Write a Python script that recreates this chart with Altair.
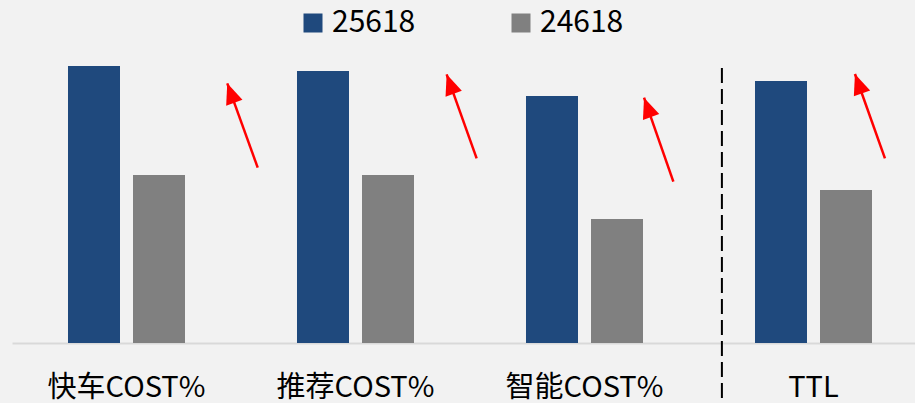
import altair as alt
import pandas as pd

categories = ["快车COST%", "推荐COST%", "智能COST%", "TTL"]
series = ["25618", "24618"]
values_25618 = [27.7, 27.2, 24.7, 26.2]
values_24618 = [16.8, 16.8, 12.4, 15.3]
colors = ["#1f497d", "#808080"]

# annotation arrows: x in category slots (0..4), y in value units
arrow_tip_x = [0.940, 1.898, 2.760, 3.681]
arrow_tip_y = [25.97, 26.87, 24.53, 26.90]
arrow_tail_x = [1.073, 2.029, 2.888, 3.812]
arrow_tail_y = [17.53, 18.47, 16.13, 18.47]

# dashed divider before TTL
divider_x = [3.100]
divider_y = [27.5]
divider_y2 = [-6.0]

FONT = "Noto Sans CJK SC"

rows = []
for c, v in zip(categories, values_25618):
    rows.append({"category": c, "series": series[0], "value": v})
for c, v in zip(categories, values_24618):
    rows.append({"category": c, "series": series[1], "value": v})
bars_df = pd.DataFrame(rows)

arrows_df = pd.DataFrame({
    "tip_x": arrow_tip_x, "tip_y": arrow_tip_y,
    "tail_x": arrow_tail_x, "tail_y": arrow_tail_y,
})
div_df = pd.DataFrame({"x": divider_x, "y": divider_y, "y2": divider_y2})

yscale = alt.Scale(domain=[0, 30], nice=False, zero=True)
slot_scale = alt.Scale(domain=[0, 4], range=[0, 916], nice=False, zero=False)

bars = alt.Chart(bars_df).mark_bar().encode(
    x=alt.X("category:N", sort=categories,
            scale=alt.Scale(domain=categories, range=[0, 916], paddingInner=0, paddingOuter=0),
            axis=alt.Axis(title=None, labelAngle=0, ticks=False, grid=False,
                          domainColor="#d9d9d9", domainWidth=2,
                          labelFont=FONT, labelFontSize=29, labelColor="#000000",
                          labelPadding=53, labelBaseline="alphabetic", labelLimit=0)),
    xOffset=alt.XOffset("series:N", sort=series,
                        scale=alt.Scale(domain=series, paddingInner=0.2, paddingOuter=0.8615)),
    y=alt.Y("value:Q", scale=yscale, axis=None),
    color=alt.Color("series:N", sort=series,
                    scale=alt.Scale(domain=series, range=colors),
                    legend=alt.Legend(title=None, orient="none", legendX=286, legendY=-35,
                                      direction="horizontal", columns=2,
                                      symbolType="square", symbolSize=361, symbolStrokeWidth=0,
                                      labelFont=FONT, labelFontSize=30, labelColor="#000000",
                                      labelOffset=4, labelLimit=0, columnPadding=90, padding=0)),
)

shafts = alt.Chart(arrows_df).mark_rule(color="#ff0000", strokeWidth=2.5).encode(
    x=alt.X("tail_x:Q", scale=slot_scale, axis=None),
    x2="tip_x:Q",
    y=alt.Y("tail_y:Q", scale=yscale, axis=None),
    y2="tip_y:Q",
)

heads = alt.Chart(arrows_df).mark_point(
    shape="M0,0L-0.42,1L0.42,1Z", size=1700, filled=True, fill="#ff0000",
    stroke=None, strokeWidth=0, opacity=1, angle=340,
).encode(
    x=alt.X("tip_x:Q", scale=slot_scale, axis=None),
    y=alt.Y("tip_y:Q", scale=yscale, axis=None),
)

divider = alt.Chart(div_df).mark_rule(color="#000000", strokeWidth=2, strokeDash=[15, 6]).encode(
    x=alt.X("x:Q", scale=slot_scale, axis=None),
    y=alt.Y("y:Q", scale=yscale, axis=None),
    y2="y2:Q",
)

chart = alt.layer(bars, shafts, heads, divider).resolve_scale(x="independent").properties(
    width=903, height=300,
    background="#f2f2f2",
    padding={"left": 12, "top": 43, "right": 0, "bottom": 60},
    autosize=alt.AutoSizeParams(type="none"),
).configure_view(stroke=None)

chart.save("out.html", embed_options={"renderer": "svg", "actions": False})
